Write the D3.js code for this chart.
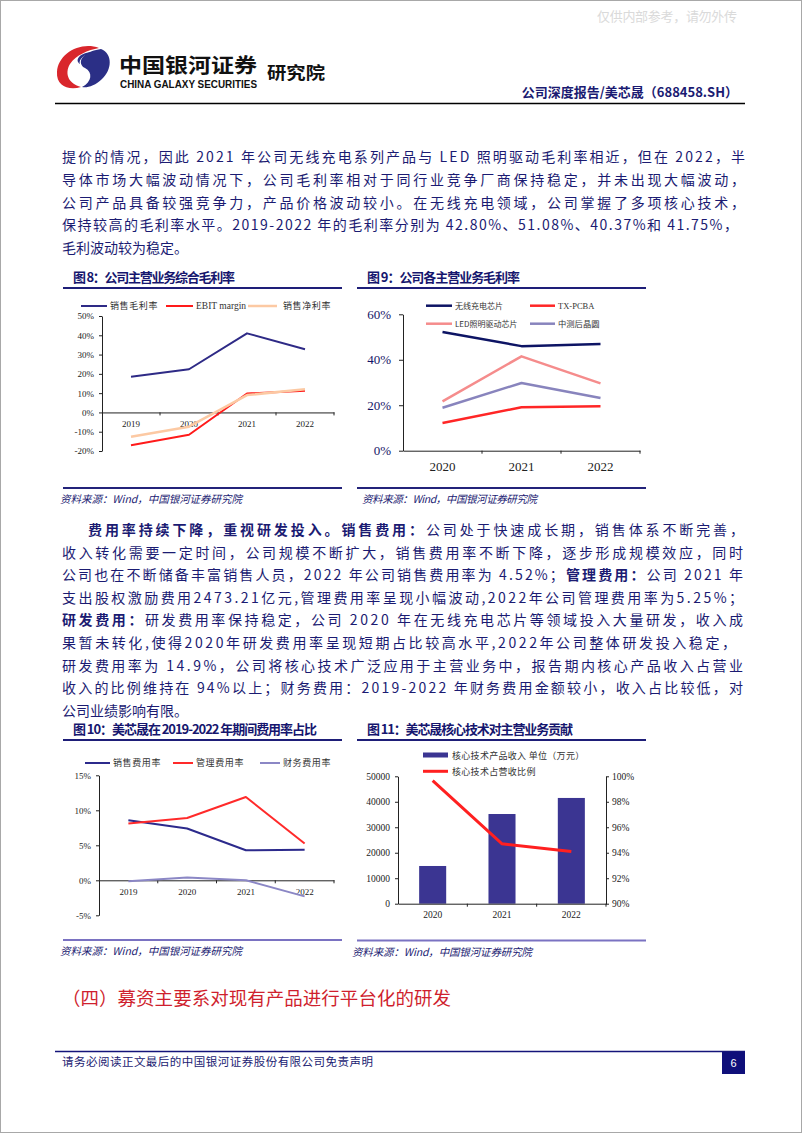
<!DOCTYPE html>
<html><head><meta charset="utf-8">
<script src="https://cdn.jsdelivr.net/npm/d3@7"></script>
<style>body{margin:0;background:#fff}svg{display:block}</style>
</head><body>
<svg id="page" width="802" height="1133"></svg>
<script>
// ---------------- data ----------------
const years8 = ["2019", "2020", "2021", "2022"];
const grossMargin8 = [0.185, 0.224, 0.41, 0.328];
const ebitMargin8 = [-0.17, -0.116, 0.098, 0.112];
const netMargin8 = [-0.126, -0.074, 0.09, 0.12];
const yTicks8 = [-0.2, -0.1, 0, 0.1, 0.2, 0.3, 0.4, 0.5];
const legend8 = ["销售毛利率", "EBIT margin", "销售净利率"];

const years9 = ["2020", "2021", "2022"];
const wireless9 = [0.522, 0.46, 0.469];
const txpcba9 = [0.122, 0.191, 0.195];
const led9 = [0.217, 0.415, 0.296];
const wafer9 = [0.189, 0.298, 0.232];
const yTicks9 = [0, 0.2, 0.4, 0.6];
const legend9 = ["无线充电芯片", "TX-PCBA", "LED照明驱动芯片", "中测后晶圆"];

const years10 = ["2019", "2020", "2021", "2022"];
const sales10 = [0.0857, 0.074, 0.043, 0.0435];
const admin10 = [0.081, 0.089, 0.119, 0.0525];
const finance10 = [-0.0015, 0.004, 0.0, -0.023];
const yTicks10 = [-0.05, 0, 0.05, 0.10, 0.15];
const legend10 = ["销售费用率", "管理费用率", "财务费用率"];

const years11 = ["2020", "2021", "2022"];
const coreRevenue11 = [14800, 35200, 41500];
const coreShare11 = [0.9966, 0.947, 0.941];
const yTicksL11 = [0, 10000, 20000, 30000, 40000, 50000];
const yTicksR11 = [0.90, 0.92, 0.94, 0.96, 0.98, 1.00];
const legend11 = ["核心技术产品收入 单位（万元）", "核心技术占营收比例"];

const para1 = [
  "提价的情况，因此 2021 年公司无线充电系列产品与 LED 照明驱动毛利率相近，但在 2022，半",
  "导体市场大幅波动情况下，公司毛利率相对于同行业竞争厂商保持稳定，并未出现大幅波动，",
  "公司产品具备较强竞争力，产品价格波动较小。在无线充电领域，公司掌握了多项核心技术，",
  "保持较高的毛利率水平。2019-2022 年的毛利率分别为 42.80%、51.08%、40.37%和 41.75%，",
  "毛利波动较为稳定。"
];
const para2 = [
  [["费用率持续下降，重视研发投入。销售费用：", 1], ["公司处于快速成长期，销售体系不断完善，", 0]],
  [["收入转化需要一定时间，公司规模不断扩大，销售费用率不断下降，逐步形成规模效应，同时", 0]],
  [["公司也在不断储备丰富销售人员，2022 年公司销售费用率为 4.52%；", 0], ["管理费用：", 1], ["公司 2021 年", 0]],
  [["支出股权激励费用2473.21亿元,管理费用率呈现小幅波动,2022年公司管理费用率为5.25%；", 0]],
  [["研发费用：", 1], ["研发费用率保持稳定，公司 2020 年在无线充电芯片等领域投入大量研发，收入成", 0]],
  [["果暂未转化,使得2020年研发费用率呈现短期占比较高水平,2022年公司整体研发投入稳定，", 0]],
  [["研发费用率为 14.9%，公司将核心技术广泛应用于主营业务中，报告期内核心产品收入占营业", 0]],
  [["收入的比例维持在 94%以上；财务费用：2019-2022 年财务费用金额较小，收入占比较低，对", 0]],
  [["公司业绩影响有限。", 0]]
];

// ---------------- helpers ----------------
const svg = d3.select("#page");
const CJK = "'Noto Sans CJK SC', sans-serif";
const SERIF = "'Liberation Serif', 'Times New Roman', serif";
const SANS = "'Liberation Sans', Arial, sans-serif";
const NAVY = "#1b1b72";

svg.append("rect").attr("width", 802).attr("height", 1133).attr("fill", "#fff");
svg.append("rect").attr("x", 0.5).attr("y", 0.5).attr("width", 801).attr("height", 1132)
  .attr("fill", "none").attr("stroke", "#a8a8a8");

function txt(x, y, s, o = {}) {
  const t = svg.append("text").attr("x", x).attr("y", y).text(s)
    .attr("font-family", o.ff || CJK).attr("font-size", o.fs || 14).attr("fill", o.fill || NAVY);
  if (o.fw) t.attr("font-weight", o.fw);
  if (o.len) t.attr("textLength", o.len).attr("lengthAdjust", o.adj || "spacing");
  if (o.anchor) t.attr("text-anchor", o.anchor);
  if (o.style) t.attr("font-style", o.style);
  if (o.ls) t.attr("letter-spacing", o.ls);
  return t;
}
function hline(x1, x2, y, color, w) {
  svg.append("line").attr("x1", x1).attr("x2", x2).attr("y1", y).attr("y2", y)
    .attr("stroke", color).attr("stroke-width", w);
}

// ---------------- header ----------------
txt(597, 21, "仅供内部参考，请勿外传", {fs: 13, fill: "#dadada", len: 140});
// logo
const logo = svg.append("g");
logo.append("path").attr("fill", "#d9262c")
  .attr("d", "M99,48 C80,41 58,54 57,72 C56,86 69,91 81,87 C69,84 64,74 70,64 C76,55 88,50 99,48 Z");
logo.append("path").attr("fill", "#2b2f86")
  .attr("d", "M101,49 C113,54 112,70 102,79 C95,86 87,88 82,87 C92,82 93,72 85,68 C77,64 80,52 101,49 Z");
logo.append("path").attr("fill", "#2b2f86")
  .attr("d", "M94,52 C84,54 78,60 80,64 C74,60 80,52 94,52 Z");
txt(119, 73, "中国银河证券", {fs: 20, fw: 700, fill: "#111", len: 138, adj: "spacingAndGlyphs"});
txt(120, 88, "CHINA GALAXY SECURITIES", {ff: SANS, fs: 10, fw: 700, fill: "#111", len: 137, adj: "spacingAndGlyphs"});
txt(267, 79, "研究院", {fs: 17, fw: 700, fill: "#111", len: 58, adj: "spacingAndGlyphs"});
txt(738, 97, "公司深度报告/美芯晟（688458.SH）", {fs: 13, fw: 700, fill: NAVY, anchor: "end"});
hline(55, 745, 103.5, "#000", 1.6);

// ---------------- paragraphs ----------------
para1.forEach((s, i) => {
  txt(62, 162 + i * 22.75, s, {fs: 14, len: i < 4 ? (i === 3 ? 676 : 683) : null});
});
para2.forEach((segs, i) => {
  const x = i === 0 ? 88 : 62;
  const t = svg.append("text").attr("x", x).attr("y", 535 + i * 22.6)
    .attr("font-family", CJK).attr("font-size", 14).attr("fill", NAVY);
  segs.forEach(s => t.append("tspan").text(s[0]).attr("font-weight", s[1] ? 700 : 400));
  if (i < 8) t.attr("textLength", i === 0 ? 656 : (i === 5 ? 674 : 681)).attr("lengthAdjust", "spacing");
});

// ---------------- chart frame helpers ----------------
function frame(x1, x2, title, titleLen, ty, srcY, srcColor, srcX, srcLen) {
  txt(x1 + 10, ty, title, {fs: 13, fw: 700, fill: "#16166e", len: titleLen});
  hline(x1, x2, ty + 6, "#1e1e78", 2);
  hline(x1, x2, srcY, srcColor, 2);
  txt(srcX, srcY + 15, "资料来源：Wind，中国银河证券研究院", {fs: 10.5, style: "italic", fill: NAVY, len: srcLen});
}
const pct = d => Math.round(d * 100) + "%";

function lineChart(c) {
  const x = d3.scaleBand().domain(c.cats).range([c.x0, c.x1]).padding(0);
  const y = d3.scaleLinear().domain(c.yDomain).range(c.yRange);
  const g = svg.append("g");
  const ya = g.append("g").attr("transform", `translate(${c.x0},0)`)
    .call(d3.axisLeft(y).tickValues(c.yTicks).tickFormat(pct).tickSize(c.tick).tickSizeOuter(0).tickPadding(c.yPad));
  ya.selectAll("text").attr("font-family", SERIF).attr("font-size", c.fs).attr("fill", c.labelColor || "#222");
  ya.selectAll("line,path").attr("stroke", "#222");
  const y0 = y(0);
  const xa = g.append("g").attr("transform", `translate(0,${y0})`)
    .call(d3.axisBottom(x).tickSize(0).tickSizeOuter(0).tickPadding(c.xPad));
  xa.selectAll("text").attr("font-family", SERIF).attr("font-size", c.xfs || c.fs).attr("fill", "#222");
  xa.select("path").attr("stroke", "#222");
  g.selectAll(".bt").data(c.cats).enter().append("line")
    .attr("x1", d => x(d) + x.bandwidth()).attr("x2", d => x(d) + x.bandwidth())
    .attr("y1", y0).attr("y2", y0 + 3).attr("stroke", "#222");
  const ln = d3.line().x((d, i) => x(c.cats[i]) + x.bandwidth() / 2).y(d => y(d));
  c.series.forEach(s => {
    g.append("path").attr("d", ln(s.values)).attr("fill", "none")
      .attr("stroke", s.color).attr("stroke-width", s.w || 2).attr("stroke-linejoin", "round");
  });
}
function legendLine(x1, x2, y, color, w, label, tx, o = {}) {
  hline(x1, x2, y, color, w);
  txt(tx, y + 3.2, label, {fs: o.fs || 9, fill: o.fill || "#333", ff: o.ff || CJK, ls: o.ls, fw: o.fw});
}

// ---------------- Chart 8 ----------------
frame(63, 342, "图 8：公司主营业务综合毛利率", 162, 282, 488, "#23237a", 60, 182);
const c8 = {navy: "#2e2a86", red: "#ff1a1a", peach: "#fcc9a3"};
lineChart({
  cats: years8, x0: 102, x1: 334, yDomain: [-0.2, 0.5], yRange: [451, 316], yTicks: yTicks8,
  fs: 9, tick: 3, yPad: 5, xPad: 8,
  series: [
    {values: grossMargin8, color: c8.navy, w: 2},
    {values: ebitMargin8, color: c8.red, w: 2},
    {values: netMargin8, color: c8.peach, w: 2.5}
  ]
});
legendLine(81, 107, 306, c8.navy, 2, legend8[0], 110, {ls: 0.6});
legendLine(166, 193, 306, c8.red, 2, legend8[1], 196, {ff: SERIF, fs: 9.5});
legendLine(248, 277, 306, c8.peach, 2.5, legend8[2], 283, {ls: 0.6});

// ---------------- Chart 9 ----------------
frame(357, 646, "图 9：公司各主营业务毛利率", 153, 282, 488, "#23237a", 362, 175);
const c9 = {navy: "#0d1464", red: "#ff2626", pink: "#f58c8c", lav: "#8884bd"};
lineChart({
  cats: years9, x0: 403, x1: 640, yDomain: [0, 0.6], yRange: [450.7, 314.3], yTicks: yTicks9,
  fs: 13, xfs: 13, tick: 4, yPad: 8, xPad: 11, labelColor: "#141466",
  series: [
    {values: wireless9, color: c9.navy, w: 2.5},
    {values: txpcba9, color: c9.red, w: 2.5},
    {values: led9, color: c9.pink, w: 2.5},
    {values: wafer9, color: c9.lav, w: 2.5}
  ]
});
legendLine(426, 452, 305.7, c9.navy, 2.5, legend9[0], 455, {fs: 8});
legendLine(530, 555, 305.7, c9.red, 2.5, legend9[1], 558, {fs: 8.5, ff: SERIF});
legendLine(426, 452, 323.7, c9.pink, 2.5, legend9[2], 455, {fs: 8});
legendLine(530, 555, 323.7, c9.lav, 2.5, legend9[3], 558, {fs: 8.3});

// ---------------- Chart 10 ----------------
frame(63, 342, "图 10：美芯晟在 2019-2022 年期间费用率占比", 244, 734, 940, "#7a72c2", 60, 182);
const c10 = {navy: "#2c2a8c", red: "#ff2a2a", lav: "#8b87c5"};
lineChart({
  cats: years10, x0: 99, x1: 334, yDomain: [-0.05, 0.15], yRange: [915.3, 775.3], yTicks: yTicks10,
  fs: 9, tick: 3, yPad: 5, xPad: 8,
  series: [
    {values: sales10, color: c10.navy, w: 2},
    {values: admin10, color: c10.red, w: 2},
    {values: finance10, color: c10.lav, w: 2}
  ]
});
legendLine(85, 110, 763, c10.navy, 2, legend10[0], 113, {ls: 0.6});
legendLine(173, 193, 763, c10.red, 2, legend10[1], 196, {ls: 0.6});
legendLine(260, 280, 763, c10.lav, 2, legend10[2], 283, {ls: 0.6});

// ---------------- Chart 11 ----------------
frame(357, 646, "图 11：美芯晟核心技术对主营业务贡献", 206, 734, 940.5, "#7a72c2", 352, 180);
(function () {
  const x = d3.scaleBand().domain(years11).range([398, 606]).paddingInner(0.61).paddingOuter(0.305);
  const yL = d3.scaleLinear().domain([0, 50000]).range([903.7, 776.3]);
  const yR = d3.scaleLinear().domain([0.9, 1.0]).range([903.7, 776.3]);
  const g = svg.append("g");
  g.selectAll(".bar").data(coreRevenue11).enter().append("rect")
    .attr("x", (d, i) => x(years11[i])).attr("width", x.bandwidth())
    .attr("y", d => yL(d)).attr("height", d => yL(0) - yL(d)).attr("fill", "#3b3592");
  const al = g.append("g").attr("transform", "translate(398,0)")
    .call(d3.axisLeft(yL).tickValues(yTicksL11).tickFormat(d3.format("d")).tickSize(3).tickSizeOuter(0).tickPadding(5));
  const ar = g.append("g").attr("transform", "translate(606,0)")
    .call(d3.axisRight(yR).tickValues(yTicksR11).tickFormat(pct).tickSize(3).tickSizeOuter(0).tickPadding(3));
  const ab = g.append("g").attr("transform", "translate(0,903.7)")
    .call(d3.axisBottom(x).tickSize(0).tickSizeOuter(0).tickPadding(8));
  [al, ar, ab].forEach(a => {
    a.selectAll("text").attr("font-family", SERIF).attr("font-size", 9.5).attr("fill", "#222");
    a.selectAll("line,path").attr("stroke", "#222");
  });
  const step = x.step();
  g.selectAll(".bt").data(years11).enter().append("line")
    .attr("x1", d => x(d) + x.bandwidth() / 2 + step / 2).attr("x2", d => x(d) + x.bandwidth() / 2 + step / 2)
    .attr("y1", 903.7).attr("y2", 906.7).attr("stroke", "#222");
  const ln = d3.line().x((d, i) => x(years11[i]) + x.bandwidth() / 2).y(d => yR(d));
  g.append("path").attr("d", ln(coreShare11)).attr("fill", "none")
    .attr("stroke", "#ff2020").attr("stroke-width", 3);
  svg.append("rect").attr("x", 423).attr("y", 752.5).attr("width", 25).attr("height", 5).attr("fill", "#3b3592");
  txt(452, 758.5, legend11[0], {fs: 9, fill: "#333", ls: 0.3});
  legendLine(423, 448, 771.3, "#ff2020", 3, legend11[1], 452, {ls: 0.3});
})();

// ---------------- heading & footer ----------------
txt(62, 1005, "（四）募资主要系对现有产品进行平台化的研发", {fs: 18.5, fill: "#cf1f2e", len: 389});
hline(55, 745, 1051.5, "#14147a", 1.6);
txt(62, 1066, "请务必阅读正文最后的中国银河证券股份有限公司免责声明", {fs: 11.5, fill: NAVY, len: 311});
svg.append("rect").attr("x", 722).attr("y", 1052).attr("width", 23).attr("height", 22).attr("fill", "#0f0f7a");
txt(733.5, 1067, "6", {ff: SANS, fs: 11, fill: "#fff", anchor: "middle"});
</script>
</body></html>
